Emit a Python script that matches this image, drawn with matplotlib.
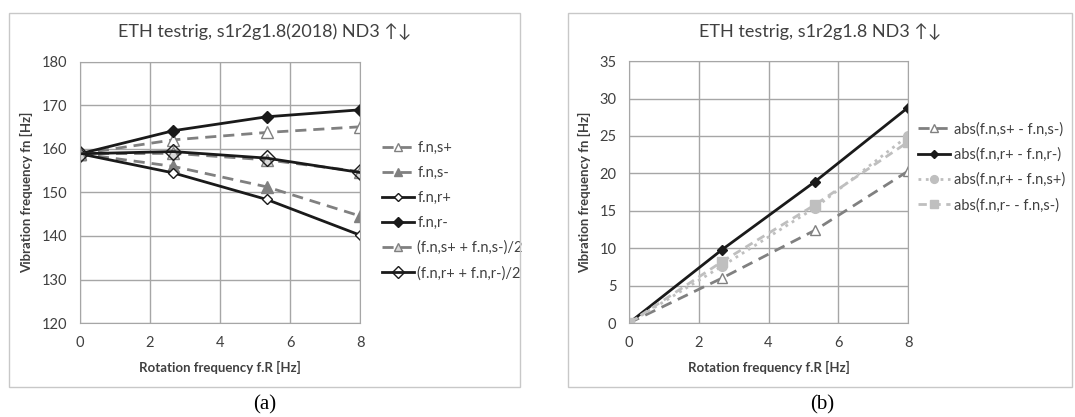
import matplotlib.pyplot as plt
from matplotlib.patches import Rectangle

plt.rcParams['font.family'] = ['Lato', 'DejaVu Sans']

# rotation frequency f.R [Hz]
f_rot = [0, 2.667, 5.333, 8]

# panel (a): natural frequencies [Hz]
fn_s_plus = [158.9, 162.1, 163.8, 165.1]
fn_s_minus = [158.9, 156.0, 151.3, 144.6]
fn_r_plus = [158.9, 154.5, 148.4, 140.2]
fn_r_minus = [158.9, 164.2, 167.4, 169.0]
fn_s_avg = [158.9, 159.0, 157.5, 154.8]
fn_r_avg = [158.9, 159.4, 157.9, 154.6]

# panel (b): splits [Hz]
split_s = [0, 6.0, 12.4, 20.3]
split_r = [0, 9.8, 18.9, 28.8]
split_rs_plus = [0, 7.6, 15.4, 25.0]
split_rs_minus = [0, 8.2, 15.8, 24.2]

gray = '#808080'
light = '#bfbfbf'
black = '#1a1a1a'
gridc = '#a6a6a6'
textc = '#404040'

fig = plt.figure(figsize=(10.75, 4.17), dpi=100)

# chart frames
for x0, w in [(0.0084, 0.475), (0.528, 0.469)]:
    fig.add_artist(Rectangle((x0, 0.072), w, 0.897, transform=fig.transFigure,
                             fill=False, edgecolor='#c8c8c8', linewidth=1.0))

ax1 = fig.add_axes([0.0744, 0.2254, 0.2605, 0.626])
ax2 = fig.add_axes([0.5851, 0.2254, 0.2596, 0.628])

def style(ax):
    ax.grid(True, color=gridc, linewidth=1.0)
    ax.set_axisbelow(True)
    for s in ax.spines.values():
        s.set_color(gridc)
    ax.tick_params(length=0, labelsize=10.5, colors=textc, pad=9)
    ax.set_xlim(0, 8)
    ax.set_xticks([0, 2, 4, 6, 8])
    ax.set_xlabel('Rotation frequency f.R [Hz]', fontsize=9.5, fontweight='bold',
                  color=textc, labelpad=8)
    ax.set_ylabel('Vibration frequency fn [Hz]', fontsize=9.5, fontweight='bold',
                  color=textc, labelpad=6)

leg_kw = dict(frameon=False, fontsize=10.5, handlelength=2.2, handletextpad=0.25,
              labelspacing=0.75, labelcolor=textc)

# panel (a)
ax1.plot(f_rot, fn_s_plus, '--', color=gray, lw=2, marker='^', ms=8,
         mfc='white', mec=gray, label='f.n,s+', dashes=(4, 2.5))
ax1.plot(f_rot, fn_s_minus, '--', color=gray, lw=2, marker='^', ms=8,
         mfc=gray, mec=gray, label='f.n,s-', dashes=(4, 2.5))
ax1.plot(f_rot, fn_r_plus, '-', color=black, lw=2, marker='D', ms=5,
         mfc='white', mec=black, label='f.n,r+')
ax1.plot(f_rot, fn_r_minus, '-', color=black, lw=2, marker='D', ms=6,
         mfc=black, mec=black, label='f.n,r-')
ax1.plot(f_rot, fn_s_avg, '--', color=gray, lw=2, marker='^', ms=8,
         mfc='#d9d9d9', mec=gray, label='(f.n,s+ + f.n,s-)/2', dashes=(4, 2.5))
ax1.plot(f_rot, fn_r_avg, '-', color=black, lw=2, marker='D', ms=8,
         mfc='none', mec=black, label='(f.n,r+ + f.n,r-)/2')
ax1.set_ylim(120, 180)
ax1.set_yticks(range(120, 181, 10))
style(ax1)
fig.text(0.2459, 0.921, 'ETH testrig, s1r2g1.8(2018) ND3 ↑↓', fontsize=13,
         color=textc, ha='center', va='center')
ax1.legend(loc='center left', bbox_to_anchor=(1.03, 0.43), markerscale=0.8, **leg_kw)

# panel (b)
ax2.plot(f_rot, split_s, '--', color=gray, lw=2, marker='^', ms=7,
         mfc='white', mec=gray, label='abs(f.n,s+ - f.n,s-)', dashes=(4, 2.5))
ax2.plot(f_rot, split_r, '-', color=black, lw=2, marker='D', ms=5,
         mfc=black, mec=black, label='abs(f.n,r+ - f.n,r-)')
ax2.plot(f_rot, split_rs_plus, ':', color=light, lw=2, marker='o', ms=7,
         mfc=light, mec=light, label='abs(f.n,r+ - f.n,s+)')
ax2.plot(f_rot, split_rs_minus, '--', color=light, lw=2, marker='s', ms=7,
         mfc=light, mec=light, label='abs(f.n,r- - f.n,s-)', dashes=(3, 2))
ax2.set_ylim(0, 35)
ax2.set_yticks(range(0, 36, 5))
style(ax2)
fig.text(0.763, 0.921, 'ETH testrig, s1r2g1.8 ND3 ↑↓', fontsize=13,
         color=textc, ha='center', va='center')
ax2.legend(loc='center left', bbox_to_anchor=(0.99, 0.595), markerscale=0.8, **leg_kw)

fig.text(0.2465, 0.03, '(a)', fontsize=15, family=['Liberation Serif', 'DejaVu Serif'],
         ha='center', va='center')
fig.text(0.765, 0.03, '(b)', fontsize=15, family=['Liberation Serif', 'DejaVu Serif'],
         ha='center', va='center')

fig.savefig('out.png', dpi=100)
